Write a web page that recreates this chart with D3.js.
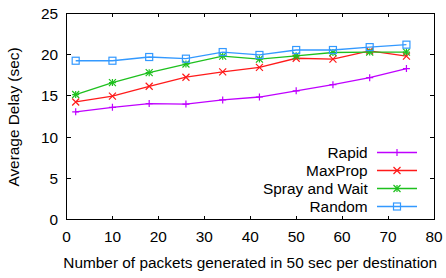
<!DOCTYPE html>
<html>
<head>
<meta charset="utf-8">
<script src="https://cdn.jsdelivr.net/npm/d3@7"></script>
<style>
  body { margin: 0; background: #fff; }
  text { font-family: "Liberation Sans", Arial, sans-serif; fill: #000; }
</style>
</head>
<body>
<div id="chart"></div>
<script>
// data
const packets = [2, 10, 18, 26, 34, 42, 50, 58, 66, 74];
const rapid   = [13.05, 13.6, 14.05, 14.0, 14.5, 14.85, 15.6, 16.35, 17.2, 18.3];
const maxprop = [14.25, 14.95, 16.15, 17.25, 17.9, 18.45, 19.55, 19.45, 20.45, 19.8];
const spray   = [15.15, 16.6, 17.8, 18.85, 19.8, 19.45, 19.85, 20.25, 20.3, 20.3];
const random  = [19.25, 19.25, 19.7, 19.5, 20.3, 19.95, 20.55, 20.55, 20.9, 21.2];
const seriesNames = ["Rapid", "MaxProp", "Spray and Wait", "Random"];
const xTicks = [0, 10, 20, 30, 40, 50, 60, 70, 80];
const yTicks = [0, 5, 10, 15, 20, 25];

const series = [
    { name: seriesNames[0], values: rapid,   color: "#bf00ff", mark: "plus" },
    { name: seriesNames[1], values: maxprop, color: "#ff1a1a", mark: "cross" },
    { name: seriesNames[2], values: spray,   color: "#1ec01e", mark: "star" },
    { name: seriesNames[3], values: random,  color: "#3399ff", mark: "square" }
];

var w = 446, h = 278;
// plot box edges (window.top is reserved, so use a margin object)
var box = { left: 66.5, right: 434, top: 13.3, bottom: 219.5 };
var fs = "15.4px";

var svg = d3.select("#chart").append("svg")
    .attr("width", w)
    .attr("height", h);

var x = d3.scaleLinear().domain([0, 80]).range([box.left, box.right]);
var y = d3.scaleLinear().domain([0, 25]).range([box.bottom, box.top]);

// frame and inward ticks on all four sides
var tl = 4;
var axes = svg.append("g").attr("stroke", "#000").attr("stroke-width", 1).attr("shape-rendering", "crispEdges");
axes.append("rect")
    .attr("x", box.left).attr("y", box.top)
    .attr("width", box.right - box.left).attr("height", box.bottom - box.top)
    .attr("fill", "none");
xTicks.forEach(t => {
    axes.append("line").attr("x1", x(t)).attr("x2", x(t)).attr("y1", box.bottom).attr("y2", box.bottom - tl);
    axes.append("line").attr("x1", x(t)).attr("x2", x(t)).attr("y1", box.top).attr("y2", box.top + tl);
});
yTicks.forEach(t => {
    axes.append("line").attr("x1", box.left).attr("x2", box.left + tl).attr("y1", y(t)).attr("y2", y(t));
    axes.append("line").attr("x1", box.right).attr("x2", box.right - tl).attr("y1", y(t)).attr("y2", y(t));
});

// tick labels
svg.append("g").selectAll("text")
    .data(xTicks).join("text")
    .attr("x", d => x(d))
    .attr("y", 242)
    .attr("text-anchor", "middle")
    .style("font-size", fs)
    .text(d => d);

svg.append("g").selectAll("text")
    .data(yTicks).join("text")
    .attr("x", 58)
    .attr("y", d => y(d) + 5.5)
    .attr("text-anchor", "end")
    .style("font-size", fs)
    .text(d => d);

// axis titles
svg.append("text")
    .attr("x", (box.left + box.right) / 2)
    .attr("y", 268)
    .attr("text-anchor", "middle")
    .style("font-size", fs)
    .text("Number of packets generated in 50 sec per destination");

svg.append("text")
    .attr("transform", "translate(19,117) rotate(-90)")
    .attr("text-anchor", "middle")
    .style("font-size", fs)
    .text("Average Delay (sec)");

// marker drawing
function drawMark(g, kind, cx, cy, color) {
    var s = 3.5;
    if (kind === "plus" || kind === "star") {
        g.append("path")
            .attr("d", `M${cx - s},${cy}H${cx + s}M${cx},${cy - s}V${cy + s}`)
            .attr("stroke", color).attr("stroke-width", 1.2).attr("fill", "none");
    }
    if (kind === "cross" || kind === "star") {
        g.append("path")
            .attr("d", `M${cx - s},${cy - s}L${cx + s},${cy + s}M${cx - s},${cy + s}L${cx + s},${cy - s}`)
            .attr("stroke", color).attr("stroke-width", 1.2).attr("fill", "none");
    }
    if (kind === "square") {
        g.append("rect")
            .attr("x", cx - s).attr("y", cy - s)
            .attr("width", 2 * s).attr("height", 2 * s)
            .attr("stroke", color).attr("stroke-width", 1.2).attr("fill", "none");
    }
}

var line = d3.line()
    .x((d, i) => x(packets[i]))
    .y(d => y(d));

series.forEach(s => {
    var g = svg.append("g");
    g.append("path")
        .attr("d", line(s.values))
        .attr("fill", "none")
        .attr("stroke", s.color)
        .attr("stroke-width", 1.3);
    s.values.forEach((v, i) => drawMark(g, s.mark, x(packets[i]), y(v), s.color));
});

// legend
series.forEach((s, i) => {
    var ly = 152.5 + i * 18;
    var g = svg.append("g");
    g.append("text")
        .attr("x", 367.7)
        .attr("y", ly + 5.5)
        .attr("text-anchor", "end")
        .style("font-size", fs)
        .text(s.name);
    g.append("line")
        .attr("x1", 377).attr("x2", 417)
        .attr("y1", ly).attr("y2", ly)
        .attr("stroke", s.color).attr("stroke-width", 1.3);
    drawMark(g, s.mark, 397, ly, s.color);
});
</script>
</body>
</html>
